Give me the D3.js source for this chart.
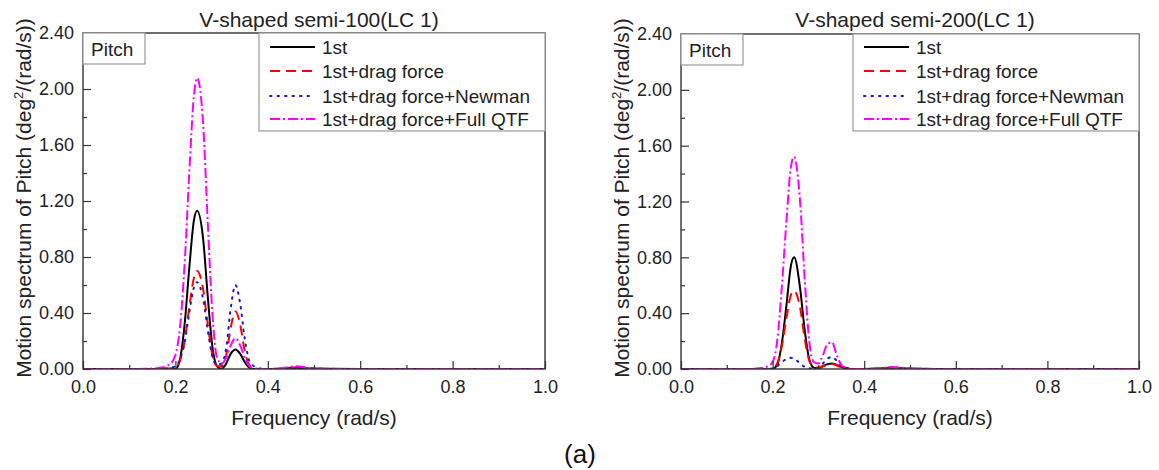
<!DOCTYPE html>
<html>
<head>
<meta charset="utf-8">
<script src="https://cdn.jsdelivr.net/npm/d3@7"></script>
<style>
  body { margin: 0; background: #fff; }
  svg { display: block; font-family: "Liberation Sans", Arial, sans-serif; }
</style>
</head>
<body>
<svg id="chart" width="1159" height="470"></svg>
<script>
// frequency grid (rad/s), shared by all series
const freq = [0, 0.05, 0.10, 0.15, 0.17, 0.19, 0.20, 0.21, 0.22, 0.23, 0.24, 0.247, 0.26, 0.27, 0.28, 0.29,
  0.30, 0.31, 0.32, 0.33, 0.34, 0.35, 0.36, 0.37, 0.38, 0.40, 0.43, 0.46, 0.49, 0.52, 0.60, 0.70, 0.80, 0.90, 1.00];

const seriesNames = ['1st', '1st+drag force', '1st+drag force+Newman', '1st+drag force+Full QTF'];

// V-shaped semi-100 (LC 1)
const semi100First = [0,0,0,0,0,0,0, 0.07,0.32,0.72,1.06,1.13,0.93,0.52,0.16,0.02, 0,0.04,0.11,0.14,0.11,0.05,0.01,0,0,0, 0.002,0.008,0.003,0.001, 0,0,0,0,0];
const semi100Drag = [0,0,0,0,0, 0.005,0.01,0.06,0.20,0.44,0.65,0.70,0.57,0.32,0.10,0.02, 0.02,0.10,0.30,0.41,0.32,0.13,0.03,0.01,0,0, 0.003,0.012,0.004,0.001, 0,0,0,0,0];
const semi100Newman = [0,0,0,0, 0.002,0.01,0.02,0.07,0.19,0.40,0.58,0.62,0.50,0.28,0.09,0.03, 0.04,0.15,0.44,0.60,0.47,0.22,0.06,0.02,0.005,0, 0.003,0.01,0.004,0.001, 0,0,0,0,0];
const semi100Full = [0,0,0, 0.003,0.01,0.04,0.10,0.30,0.75,1.40,1.95,2.08,1.75,1.05,0.40,0.08, 0.04,0.08,0.17,0.22,0.17,0.08,0.02,0.005,0,0, 0.005,0.02,0.008,0.002, 0,0,0,0,0];

// V-shaped semi-200 (LC 1)
const semi200First = [0,0,0,0,0,0,0, 0.03,0.18,0.45,0.74,0.80,0.58,0.28,0.07,0.01, 0.005,0.02,0.035,0.04,0.03,0.015,0.005,0,0,0, 0.003,0.01,0.004,0.001, 0,0,0,0,0];
const semi200Drag = [0,0,0,0,0,0, 0.005,0.04,0.16,0.36,0.53,0.56,0.44,0.22,0.06,0.015, 0.01,0.02,0.03,0.035,0.025,0.012,0.004,0,0,0, 0.002,0.008,0.003,0.001, 0,0,0,0,0];
const semi200Newman = [0,0,0,0,0,0, 0.005,0.02,0.05,0.07,0.08,0.075,0.04,0.015,0.005,0.003, 0.01,0.04,0.075,0.085,0.06,0.025,0.01,0.003,0,0, 0.002,0.006,0.002,0, 0,0,0,0,0];
const semi200Full = [0,0,0,0, 0.005,0.02,0.05,0.20,0.58,1.05,1.45,1.52,1.20,0.65,0.20,0.05, 0.04,0.10,0.18,0.19,0.10,0.03,0.01,0,0,0, 0.004,0.015,0.006,0.002, 0,0,0,0,0];

const xTicks = [0, 0.2, 0.4, 0.6, 0.8, 1.0];
const xMinor = [0.1, 0.3, 0.5, 0.7, 0.9];
const yTicks = [0, 0.4, 0.8, 1.2, 1.6, 2.0, 2.4];
const yMinor = [0.2, 0.6, 1.0, 1.4, 1.8, 2.2];

const styles = [
  {color: '#000000', dash: null, cap: 'butt'},
  {color: '#ff0000', dash: '10,6', cap: 'butt'},
  {color: '#1a1acc', dash: '1.5,6', cap: 'round'},
  {color: '#ff00ff', dash: '10,3,2,3', cap: 'butt'}
];

const svg = d3.select('#chart');

function drawPanel(p) {
  const x = d3.scaleLinear().domain([0, 1]).range([p.left, p.right]);
  const y = d3.scaleLinear().domain([0, 2.4]).range([p.bottom, p.top]);
  const g = svg.append('g');

  g.append('clipPath').attr('id', 'clip' + p.id)
    .append('rect').attr('x', p.left).attr('y', p.top)
    .attr('width', p.right - p.left).attr('height', p.bottom - p.top);

  // lines
  const line = d3.line().x((d, i) => x(freq[i])).y(d => y(d)).curve(d3.curveMonotoneX);
  p.series.forEach((s, k) => {
    g.append('path')
      .datum(s)
      .attr('clip-path', `url(#clip${p.id})`)
      .attr('fill', 'none')
      .attr('stroke', styles[k].color)
      .attr('stroke-width', 2)
      .attr('stroke-linecap', styles[k].cap)
      .attr('stroke-dasharray', styles[k].dash)
      .attr('d', line);
  });

  // x axis
  g.append('g').attr('transform', `translate(0,${p.bottom})`)
    .call(d3.axisBottom(x).tickValues(xTicks).tickFormat(d3.format('.1f')).tickSize(-8).tickPadding(11));
  g.append('g').attr('transform', `translate(0,${p.bottom})`)
    .call(d3.axisBottom(x).tickValues(xMinor).tickFormat('').tickSize(-4));

  // y axis
  g.append('g').attr('transform', `translate(${p.left},0)`)
    .call(d3.axisLeft(y).tickValues(yTicks).tickFormat(d3.format('.2f')).tickSize(-8).tickPadding(9));
  g.append('g').attr('transform', `translate(${p.left},0)`)
    .call(d3.axisLeft(y).tickValues(yMinor).tickFormat('').tickSize(-4));

  g.selectAll('.tick line').attr('stroke', '#333').attr('stroke-width', 1.2);
  g.selectAll('.domain').remove();
  g.selectAll('.tick text').attr('font-size', 18).attr('fill', '#222')
    .attr('font-family', '"Liberation Sans", Arial, sans-serif');

  // frame
  g.append('rect')
    .attr('x', p.left).attr('y', p.top)
    .attr('width', p.right - p.left).attr('height', p.bottom - p.top)
    .attr('fill', 'none').attr('stroke', '#333').attr('stroke-width', 1.4);

  // title
  g.append('text')
    .attr('x', (p.left + p.right) / 2 + 5).attr('y', 27)
    .attr('text-anchor', 'middle').attr('font-size', 21).attr('fill', '#222')
    .text(p.title);

  // x title
  g.append('text')
    .attr('x', (p.left + p.right) / 2).attr('y', 425)
    .attr('text-anchor', 'middle').attr('font-size', 21).attr('fill', '#222')
    .text('Frequency (rad/s)');

  // y title
  const yt = g.append('text')
    .attr('transform', `translate(${p.left - 52},198) rotate(-90)`)
    .attr('text-anchor', 'middle').attr('font-size', 21).attr('fill', '#222');
  yt.append('tspan').text('Motion spectrum of Pitch (deg');
  yt.append('tspan').attr('font-size', 13).attr('dy', -8).text('2');
  yt.append('tspan').attr('dy', 8).text('/(rad/s))');

  // "Pitch" label box
  g.append('rect')
    .attr('x', p.left).attr('y', p.top)
    .attr('width', 62).attr('height', 31)
    .attr('fill', '#fff').attr('stroke', '#999').attr('stroke-width', 1.2);
  g.append('text')
    .attr('x', p.left + 8).attr('y', p.top + 23)
    .attr('font-size', 19).attr('fill', '#222').text('Pitch');

  // legend
  const lx = p.right - 286;
  g.append('rect')
    .attr('x', lx).attr('y', p.top)
    .attr('width', p.right - lx).attr('height', 131 - p.top)
    .attr('fill', '#fff').attr('stroke', '#999').attr('stroke-width', 1.2);
  const rows = [47, 71, 96, 119];
  seriesNames.forEach((name, k) => {
    g.append('line')
      .attr('x1', lx + 11).attr('x2', lx + 56)
      .attr('y1', rows[k]).attr('y2', rows[k])
      .attr('stroke', styles[k].color).attr('stroke-width', 2)
      .attr('stroke-linecap', styles[k].cap)
      .attr('stroke-dasharray', styles[k].dash);
    g.append('text')
      .attr('x', lx + 63).attr('y', rows[k] + 7)
      .attr('font-size', 19).attr('fill', '#222').text(name);
  });
}

drawPanel({id: 'a', left: 83, right: 545, top: 33, bottom: 369,
  title: 'V-shaped semi-100(LC 1)',
  series: [semi100First, semi100Drag, semi100Newman, semi100Full]});
drawPanel({id: 'b', left: 681, right: 1139, top: 34, bottom: 369,
  title: 'V-shaped semi-200(LC 1)',
  series: [semi200First, semi200Drag, semi200Newman, semi200Full]});

// caption
svg.append('text')
  .attr('x', 580).attr('y', 463)
  .attr('text-anchor', 'middle').attr('font-size', 26).attr('fill', '#111')
  .text('(a)');
</script>
</body>
</html>
